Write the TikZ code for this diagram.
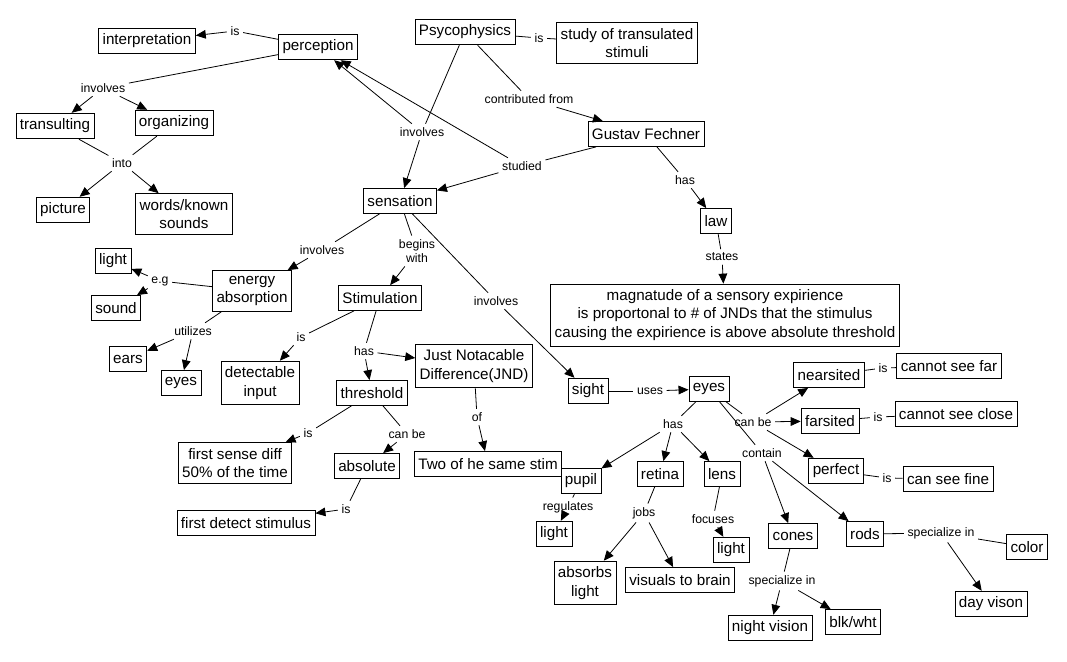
\documentclass[tikz,border=0pt]{standalone}
\usepackage{fontspec}
\setmainfont{Liberation Sans}
\usetikzlibrary{arrows.meta}

\begin{document}
\begin{tikzpicture}[x=0.75pt,y=-0.75pt,line width=0.6pt,
    concept/.style={draw,font=\fontsize{11.4}{13.6}\selectfont,inner xsep=3pt,inner ysep=4.3pt,
      minimum height=18.75pt,align=center},
    link/.style={font=\fontsize{9.2}{10.8}\selectfont,inner sep=2.5pt,align=center},
    arr/.style={-{Triangle[length=7.5pt,width=6.5pt]}}]
    \useasboundingbox (0,0) rectangle (1067,661);

    % concepts
    \node[concept] (interp) at (147,41) {interpretation};
    \node[concept] (percep) at (318,47) {perception};
    \node[concept] (psyco) at (465,32) {Psycophysics};
    \node[concept] (study) at (627,43) {study of transulated\\stimuli};
    \node[concept] (transult) at (55,126) {transulting};
    \node[concept] (organiz) at (174,123) {organizing};
    \node[concept] (picture) at (63,210) {picture};
    \node[concept] (words) at (184,214) {words/known\\sounds};
    \node[concept] (fechner) at (646,134) {Gustav Fechner};
    \node[concept] (sensat) at (400,201) {sensation};
    \node[concept] (law) at (716,221) {law};
    \node[concept] (magn) at (725,315) {magnatude of a sensory expirience\\is proportonal to \# of JNDs that the stimulus\\causing the expirience is above absolute threshold};
    \node[concept] (lightA) at (113,261) {light};
    \node[concept] (sound) at (116,308) {sound};
    \node[concept] (energy) at (252,291) {energy\\absorption};
    \node[concept] (stimul) at (380,298) {Stimulation};
    \node[concept] (ears) at (128,359) {ears};
    \node[concept] (eyesA) at (181,383) {eyes};
    \node[concept] (detect) at (260,383) {detectable\\input};
    \node[concept] (thresh) at (372,393) {threshold};
    \node[concept] (jnd) at (474,366) {Just Notacable\\Difference(JND)};
    \node[concept] (firstdiff) at (235,463) {first sense diff\\50\% of the time};
    \node[concept] (absol) at (367,466) {absolute};
    \node[concept] (twostim) at (488,464) {Two of he same stim};
    \node[concept] (firstdet) at (246,523) {first detect stimulus};
    \node[concept] (sight) at (588,391) {sight};
    \node[concept] (eyes) at (709,389) {eyes};
    \node[concept] (pupil) at (581,481) {pupil};
    \node[concept] (retina) at (660,474) {retina};
    \node[concept] (lens) at (722,474) {lens};
    \node[concept] (lightB) at (554,534) {light};
    \node[concept] (lightC) at (731,550) {light};
    \node[concept] (absorbs) at (585,583) {absorbs\\light};
    \node[concept] (visuals) at (680,580) {visuals to brain};
    \node[concept] (cones) at (793,536) {cones};
    \node[concept] (night) at (770,628) {night vision};
    \node[concept] (blkwht) at (853,622) {blk/wht};
    \node[concept] (rods) at (865,534) {rods};
    \node[concept] (color) at (1027,547) {color};
    \node[concept] (dayvis) at (991,604) {day vison};
    \node[concept] (near) at (829,375) {nearsited};
    \node[concept] (cantfar) at (949,366) {cannot see far};
    \node[concept] (far) at (830,421) {farsited};
    \node[concept] (cantclose) at (956,414) {cannot see close};
    \node[concept] (perfect) at (836,471) {perfect};
    \node[concept] (canfine) at (948,479) {can see fine};

    % linking phrases
    \node[link] (isInterp) at (235,31) {is};
    \node[link] (invPercep) at (103,88) {involves};
    \node[link] (into) at (122,163) {into};
    \node[link] (isPsy) at (539,38) {is};
    \node[link] (contrib) at (529,99) {contributed from};
    \node[link] (invPsy) at (422,132) {involves};
    \node[link] (studied) at (522,166) {studied};
    \node[link] (hasFech) at (685,180) {has};
    \node[link] (states) at (722,257) {states};
    \node[link] (invSens) at (322,250) {involves};
    \node[link] (begins) at (417,251) {begins\\with};
    \node[link] (invSight) at (496,301) {involves};
    \node[link] (eg) at (160,281) {e.g};
    \node[link] (utilizes) at (193,331) {utilizes};
    \node[link] (isStim) at (301,337) {is};
    \node[link] (hasStim) at (364,351) {has};
    \node[link] (ofJnd) at (477,417) {of};
    \node[link] (isThresh) at (308,433) {is};
    \node[link] (canThresh) at (407,434) {can be};
    \node[link] (isAbs) at (346,509) {is};
    \node[link] (uses) at (650,391) {uses};
    \node[link] (hasEyes) at (673,424) {has};
    \node[link] (canEyes) at (753,422) {can be};
    \node[link] (contain) at (762,453) {contain};
    \node[link] (regul) at (568,507) {regulates};
    \node[link] (jobs) at (644,513) {jobs};
    \node[link] (focuses) at (713,519) {focuses};
    \node[link] (specCones) at (782,581) {specialize in};
    \node[link] (specRods) at (941,533) {specialize in};
    \node[link] (isNear) at (883,368) {is};
    \node[link] (isFar) at (878,417) {is};
    \node[link] (isPerf) at (887,478) {is};

    % connectors
    \draw (percep) -- (isInterp);
    \draw[arr] (isInterp) -- (interp);
    \draw (percep) -- (invPercep);
    \draw[arr] (invPercep) -- (transult);
    \draw[arr] (invPercep) -- (organiz);
    \draw (transult) -- (into);
    \draw (organiz) -- (into);
    \draw[arr] (into) -- (picture);
    \draw[arr] (into) -- (words);

    \draw (psyco) -- (isPsy);
    \draw (isPsy) -- (study);
    \draw (psyco) -- (contrib);
    \draw[arr] (contrib) -- (fechner);
    \draw (psyco) -- (invPsy);
    \draw[arr] (invPsy) -- (sensat);
    \draw[arr] (invPsy) -- (percep);
    \draw (fechner) -- (studied);
    \draw[arr] (studied) -- (sensat);
    \draw[arr] (studied) -- (percep);
    \draw (fechner) -- (hasFech);
    \draw[arr] (hasFech) -- (law);
    \draw (law) -- (states);
    \draw[arr] (states) -- (magn);

    \draw (sensat) -- (invSens);
    \draw[arr] (invSens) -- (energy);
    \draw (sensat) -- (begins);
    \draw[arr] (begins) -- (stimul);
    \draw (sensat) -- (invSight);
    \draw[arr] (invSight) -- (sight);

    \draw (energy) -- (eg);
    \draw[arr] (eg) -- (lightA);
    \draw[arr] (eg) -- (sound);
    \draw (energy) -- (utilizes);
    \draw[arr] (utilizes) -- (ears);
    \draw[arr] (utilizes) -- (eyesA);

    \draw (stimul) -- (isStim);
    \draw[arr] (isStim) -- (detect);
    \draw (stimul) -- (hasStim);
    \draw[arr] (hasStim) -- (thresh);
    \draw[arr] (hasStim) -- (jnd);
    \draw (jnd) -- (ofJnd);
    \draw[arr] (ofJnd) -- (twostim);
    \draw (thresh) -- (isThresh);
    \draw[arr] (isThresh) -- (firstdiff);
    \draw (thresh) -- (canThresh);
    \draw[arr] (canThresh) -- (absol);
    \draw (absol) -- (isAbs);
    \draw[arr] (isAbs) -- (firstdet);

    \draw (sight) -- (uses);
    \draw[arr] (uses) -- (eyes);
    \draw (eyes) -- (hasEyes);
    \draw[arr] (hasEyes) -- (pupil);
    \draw[arr] (hasEyes) -- (retina);
    \draw[arr] (hasEyes) -- (lens);
    \draw (eyes) -- (canEyes);
    \draw[arr] (canEyes) -- (near);
    \draw[arr] (canEyes) -- (far);
    \draw[arr] (canEyes) -- (perfect);
    \draw (eyes) -- (contain);
    \draw[arr] (contain) -- (cones);
    \draw[arr] (contain) -- (rods);

    \draw (pupil) -- (regul);
    \draw[arr] (regul) -- (lightB);
    \draw (retina) -- (jobs);
    \draw[arr] (jobs) -- (absorbs);
    \draw[arr] (jobs) -- (visuals);
    \draw (lens) -- (focuses);
    \draw[arr] (focuses) -- (lightC);
    \draw (cones) -- (specCones);
    \draw[arr] (specCones) -- (night);
    \draw[arr] (specCones) -- (blkwht);
    \draw (rods) -- (specRods);
    \draw (specRods) -- (color);
    \draw[arr] (specRods) -- (dayvis);

    \draw (near) -- (isNear);
    \draw (isNear) -- (cantfar);
    \draw (far) -- (isFar);
    \draw (isFar) -- (cantclose);
    \draw (perfect) -- (isPerf);
    \draw (isPerf) -- (canfine);
\end{tikzpicture}
\end{document}
